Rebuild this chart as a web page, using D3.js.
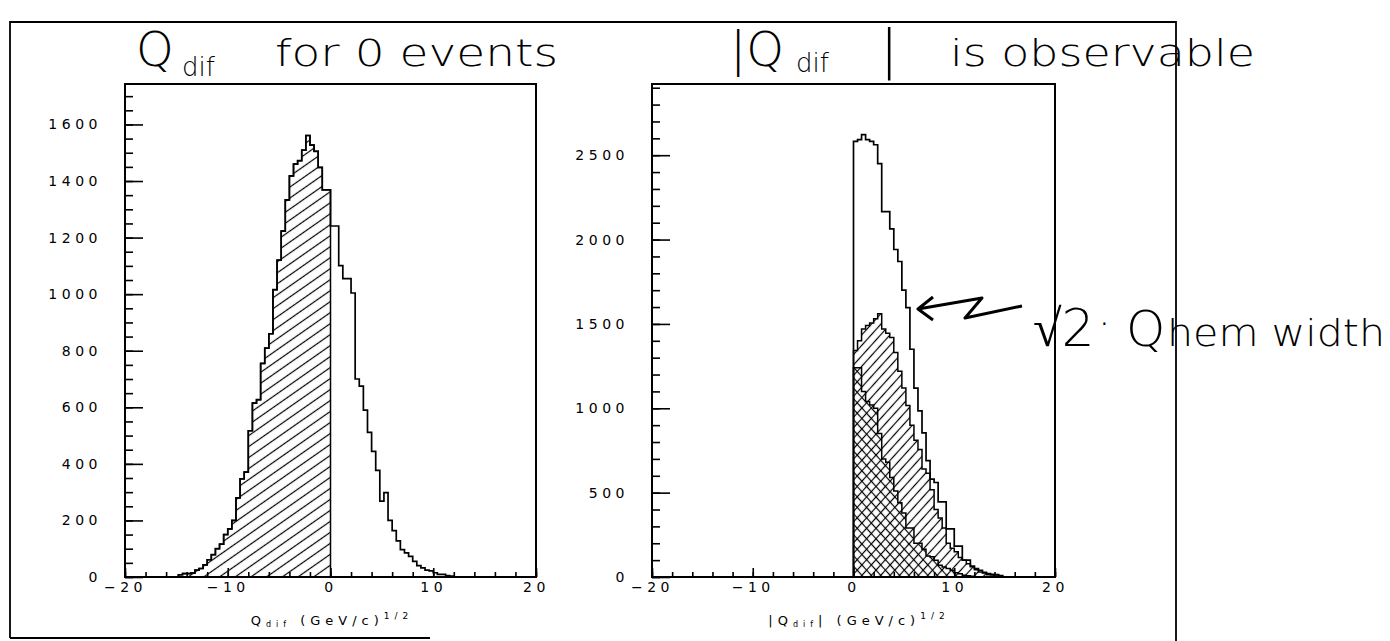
<!DOCTYPE html>
<html lang="en">
<head>
<meta charset="utf-8">
<title>Q dif histograms</title>
<script src="https://cdn.jsdelivr.net/npm/d3@7"></script>
<style>
  body { margin: 0; background: #fff; }
  svg { display: block; }
</style>
</head>
<body>
<script>
// histogram bin width, (GeV/c)^1/2
var binWidth = 0.4;

// left panel: Q_dif, first bin starts at -14.8
var leftStart = -14.8;
var leftCounts = [8, 12, 12, 14, 24, 30, 43, 61, 79, 100, 116, 150, 170, 200, 280, 347, 371,
                  517, 615, 627, 755, 809, 860, 1016, 1120, 1223, 1333, 1418, 1460, 1472, 1509,
                  1561, 1527, 1505, 1448, 1369, 1369,
                  1241, 1241, 1101, 1055, 1055, 1004, 700, 675, 590, 511, 444, 377, 268, 298,
                  200, 164, 128, 97, 85, 73, 55, 40, 32, 24, 22, 15, 9, 9, 5, 3];

// right panel: |Q_dif|, all three start at 0
var rightStart = 0;
var totalCounts = [2582, 2592, 2622, 2592, 2582, 2562, 2450, 2165, 2165, 2063, 1941, 1870, 1700,
                   1596, 1350, 1120, 985, 854, 690, 580, 560, 445, 445, 285, 285, 183, 183, 100,
                   100, 65, 50, 40, 28, 20, 15, 14, 9];
var negCounts = [1342, 1400, 1470, 1490, 1505, 1530, 1560, 1470, 1445, 1420, 1330, 1220, 1120,
                 1016, 900, 810, 755, 640, 615, 517, 400, 350, 290, 200, 170, 150, 116, 100, 79,
                 61, 43, 30, 24, 14, 12, 12, 8];
var posCounts = [1240, 1240, 1100, 1040, 1020, 1000, 850, 700, 680, 590, 510, 440, 380, 290, 290,
                 200, 200, 165, 125, 120, 100, 70, 60, 50, 40, 25, 20, 10, 8, 5];

// tick labels
var xTicks = [-20, -10, 0, 10, 20];
var leftYTicks = [0, 200, 400, 600, 800, 1000, 1200, 1400, 1600];
var rightYTicks = [0, 500, 1000, 1500, 2000, 2500];

var w = 1390;
var h = 641;
var labelFont = "DejaVu Sans";
var handFont = "DejaVu Sans";

var svg = d3.select("body")
            .append("svg")
            .attr("width", w)
            .attr("height", h);

// hatch patterns
var defs = svg.append("defs");
function hatch(id, angle, gap) {
    var p = defs.append("pattern")
        .attr("id", id)
        .attr("patternUnits", "userSpaceOnUse")
        .attr("width", 10)
        .attr("height", gap)
        .attr("patternTransform", "rotate(" + angle + ")");
    p.append("line")
        .attr("x1", 0).attr("x2", 10)
        .attr("y1", gap / 2).attr("y2", gap / 2)
        .attr("stroke", "#000")
        .attr("stroke-width", 1.2);
}
hatch("hatchLeft", -35, 9);
hatch("hatchFwd", -48, 7);
hatch("hatchBack", 48, 7);

// turn a list of counts into step points
function steps(start, counts) {
    var pts = [{x: start, y: 0}];
    counts.forEach(function(c, i) {
        pts.push({x: start + i * binWidth, y: c});
    });
    pts.push({x: start + counts.length * binWidth, y: 0});
    return pts;
}

// outer page border
svg.append("path")
    .attr("d", "M10,638 V22 H1176 V641 M10,638 H430")
    .attr("fill", "none")
    .attr("stroke", "#000")
    .attr("stroke-width", 1.8);

function panel(opt) {
    var xScale = d3.scaleLinear().domain([-20, 20]).range([opt.left, opt.right]);
    var yScale = d3.scaleLinear().domain([0, opt.yMax]).range([577, 84]);
    var g = svg.append("g");

    var line = d3.line()
        .curve(d3.curveStepAfter)
        .x(function(d) { return xScale(d.x); })
        .y(function(d) { return yScale(d.y); });
    var area = d3.area()
        .curve(d3.curveStepAfter)
        .x(function(d) { return xScale(d.x); })
        .y0(yScale(0))
        .y1(function(d) { return yScale(d.y); });

    opt.hatched.forEach(function(hh) {
        g.append("path")
            .attr("d", area(steps(hh.start, hh.counts)))
            .attr("fill", "url(#" + hh.pattern + ")")
            .attr("stroke", "#000")
            .attr("stroke-width", 1.5);
    });
    g.append("path")
        .attr("d", line(steps(opt.start, opt.counts)))
        .attr("fill", "none")
        .attr("stroke", "#000")
        .attr("stroke-width", 1.7);

    // x axis: ticks point up into the frame
    g.append("g")
        .attr("transform", "translate(0,577)")
        .call(d3.axisBottom(xScale).tickValues(d3.range(-20, 21, 2)).tickSize(-5).tickFormat(""))
        .call(function(a) { a.select(".domain").remove(); });
    g.append("g")
        .attr("transform", "translate(0,577)")
        .call(d3.axisBottom(xScale).tickValues(xTicks).tickSize(-9).tickPadding(5)
              .tickFormat(d3.format("d")))
        .call(function(a) { a.select(".domain").remove(); });

    // y axis: ticks point right into the frame
    g.append("g")
        .attr("transform", "translate(" + opt.left + ",0)")
        .call(d3.axisLeft(yScale).tickValues(d3.range(0, opt.yMax, opt.minor)).tickSize(-8).tickFormat(""))
        .call(function(a) { a.select(".domain").remove(); });
    g.append("g")
        .attr("transform", "translate(" + opt.left + ",0)")
        .call(d3.axisLeft(yScale).tickValues(opt.yTicks).tickSize(-18).tickPadding(23)
              .tickFormat(d3.format("d")))
        .call(function(a) { a.select(".domain").remove(); });

    g.selectAll(".tick line").attr("stroke-width", 1.6);
    g.selectAll(".tick text")
        .attr("font-family", labelFont)
        .attr("font-size", 14)
        .attr("letter-spacing", 4.5);

    // frame
    g.append("rect")
        .attr("x", xScale(-20))
        .attr("y", yScale(opt.yMax))
        .attr("width", xScale(20) - xScale(-20))
        .attr("height", yScale(0) - yScale(opt.yMax))
        .attr("fill", "none")
        .attr("stroke", "#000")
        .attr("stroke-width", 2);

    // axis title
    var t = g.append("text")
        .attr("x", opt.titleX)
        .attr("y", 625)
        .attr("text-anchor", "middle")
        .attr("font-family", labelFont)
        .attr("font-size", 13)
        .attr("letter-spacing", 5);
    t.append("tspan").text(opt.pre + "Q");
    t.append("tspan").attr("font-size", 8).attr("dy", 2).text("dif");
    t.append("tspan").attr("dy", -2).text(opt.post + "  (GeV/c)");
    t.append("tspan").attr("font-size", 9).attr("dy", -6).text("1/2");
}

var negBins = Math.round((0 - leftStart) / binWidth);

panel({
    left: 125, right: 536, yMax: 1743, minor: 50, yTicks: leftYTicks,
    start: leftStart, counts: leftCounts,
    hatched: [{start: leftStart, counts: leftCounts.slice(0, negBins), pattern: "hatchLeft"}],
    titleX: 332, pre: "", post: ""
});

panel({
    left: 652, right: 1055, yMax: 2922, minor: 100, yTicks: rightYTicks,
    start: rightStart, counts: totalCounts,
    hatched: [{start: rightStart, counts: negCounts, pattern: "hatchFwd"},
              {start: rightStart, counts: posCounts, pattern: "hatchBack"}],
    titleX: 859, pre: "|", post: "|"
});

// handwritten notes
function hand(x, y, size, txt, len) {
    var t = svg.append("text")
        .attr("x", x).attr("y", y)
        .attr("font-family", handFont)
        .attr("font-weight", 200)
        .attr("font-size", size)
        .text(txt);
    if (len) t.attr("textLength", len).attr("lengthAdjust", "spacingAndGlyphs");
    return t;
}
hand(136, 66, 48, "Q");
hand(182, 76, 26, "dif");
hand(275, 66, 38, "for 0 events", 283);

hand(730, 66, 48, "|Q");
hand(796, 72, 26, "dif");
hand(880, 68, 54, "|");
hand(950, 66, 38, "is observable", 305);

hand(1033, 346, 52, "√2");
hand(1098, 338, 40, "·");
hand(1126, 346, 50, "Q");
hand(1167, 346, 38, "hem width", 218);

// arrow pointing at the open histogram
svg.append("path")
    .attr("d", "M933,297 L918,309 L933,320 M918,309 L982,298 L965,318 L1022,306")
    .attr("fill", "none")
    .attr("stroke", "#000")
    .attr("stroke-width", 3)
    .attr("stroke-linejoin", "round");
</script>
</body>
</html>
